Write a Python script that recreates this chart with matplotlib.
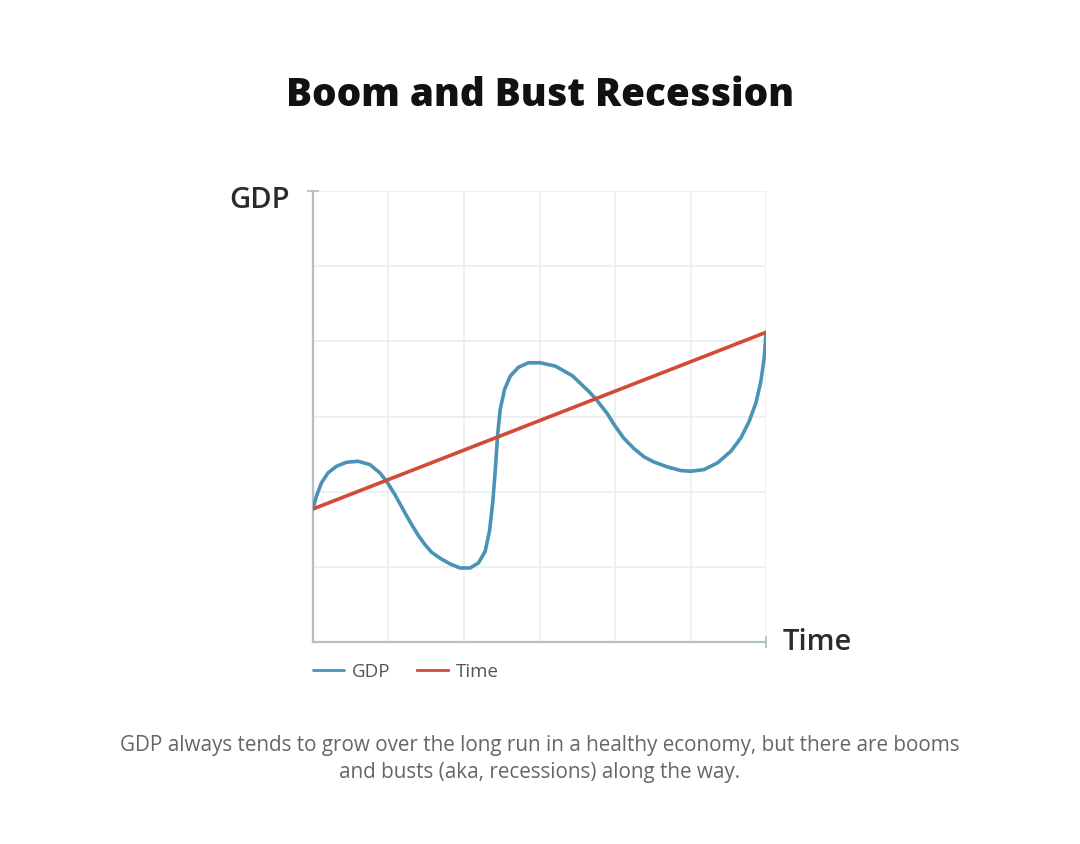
import matplotlib.pyplot as plt

# values (grid units, 0..6 on both axes)
gdp_x = [0.0, 0.045, 0.112, 0.199, 0.311, 0.444, 0.598, 0.753, 0.886, 0.975,
         1.085, 1.218, 1.307, 1.394, 1.483, 1.572, 1.683, 1.815, 1.948, 2.081,
         2.191, 2.280, 2.337, 2.382, 2.413, 2.444, 2.479, 2.537, 2.612, 2.722,
         2.855, 3.011, 3.210, 3.432, 3.652, 3.741, 3.896, 3.993, 4.117, 4.250,
         4.382, 4.515, 4.693, 4.870, 5.003, 5.179, 5.357, 5.534, 5.667, 5.777,
         5.866, 5.932, 5.976, 6.0]
gdp_y = [1.775, 1.939, 2.117, 2.250, 2.338, 2.391, 2.405, 2.361, 2.250, 2.138,
         1.961, 1.718, 1.562, 1.419, 1.296, 1.193, 1.115, 1.039, 0.985, 0.985,
         1.052, 1.206, 1.473, 1.872, 2.272, 2.738, 3.093, 3.360, 3.537, 3.656,
         3.715, 3.715, 3.670, 3.545, 3.335, 3.240, 3.040, 2.885, 2.710, 2.575,
         2.465, 2.395, 2.330, 2.281, 2.272, 2.294, 2.383, 2.538, 2.716, 2.937,
         3.182, 3.470, 3.782, 4.115]
time_x = [0, 6]
time_y = [1.77, 4.12]

title = 'Boom and Bust Recession'
caption = ('GDP always tends to grow over the long run in a healthy economy, but there are booms\n'
           'and busts (aka, recessions) along the way.')

plt.rcParams['font.family'] = ['Open Sans', 'DejaVu Sans']

fig = plt.figure(figsize=(10.8, 8.44), dpi=100)
ax = fig.add_axes([0.2898, 0.2393, 0.4195, 0.5344])

ax.plot(gdp_x, gdp_y, color='#4a93b6', lw=2.6, solid_joinstyle='round',
        solid_capstyle='round', label='GDP', zorder=3)
ax.plot(time_x, time_y, color='#d14b36', lw=2.6, label='Time', zorder=3)

ax.set_xlim(0, 6)
ax.set_ylim(0, 6)

for s in ['top', 'right']:
    ax.spines[s].set_visible(False)
for s in ['left', 'bottom']:
    ax.spines[s].set_color('#b4c1c2')
    ax.spines[s].set_linewidth(1.6)

# end caps on the axes, grid at every unit
ax.set_xticks([6])
ax.set_yticks([6])
ax.set_xticks(range(1, 6), minor=True)
ax.set_yticks(range(1, 6), minor=True)
ax.grid(True, which='both', color='#e9eeee', lw=1.2)
ax.set_axisbelow(True)
ax.tick_params(which='major', direction='inout', length=9, width=1.3, color='#b4c1c2',
               labelbottom=False, labelleft=False)
ax.tick_params(which='minor', length=0)

fig.text(0.5, 0.887, title, ha='center', va='center', fontsize=27.8,
         fontweight='extra bold', color='#111111')
fig.text(0.2407, 0.763, 'GDP', ha='center', va='center', fontsize=21,
         color='#2b2b2b', fontweight='semibold')
fig.text(0.757, 0.239, 'Time', ha='center', va='center', fontsize=21,
         color='#2b2b2b', fontweight='semibold')

leg = ax.legend(loc='upper left', bbox_to_anchor=(-0.038, -0.008), ncol=2, frameon=False,
                fontsize=13.5, handlelength=1.65, columnspacing=1.4, handletextpad=0.45)
for t in leg.get_texts():
    t.set_color('#555555')
for h in leg.get_lines():
    h.set_linewidth(2)

fig.text(0.5, 0.1005, caption, ha='center', va='center', fontsize=14.9, color='#666666',
         linespacing=1.35)

fig.savefig('out.png', dpi=100, facecolor='white')
